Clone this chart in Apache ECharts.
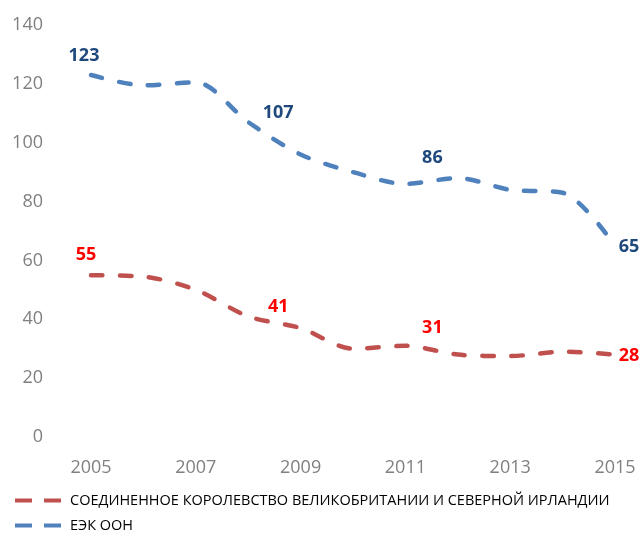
<!DOCTYPE html>
<html>
<head>
<meta charset="utf-8">
<script src="https://cdn.jsdelivr.net/npm/echarts@6/dist/echarts.min.js"></script>
<style>
  html, body { margin: 0; padding: 0; background: #fff; }
  #main { width: 640px; height: 533px; }
</style>
</head>
<body>
<div id="main"></div>
<script>
var years = ["2005", "2006", "2007", "2008", "2009", "2010", "2011", "2012", "2013", "2014", "2015"];
var ukName = "СОЕДИНЕННОЕ КОРОЛЕВСТВО ВЕЛИКОБРИТАНИИ И СЕВЕРНОЙ ИРЛАНДИИ";
var uneceName = "ЕЭК ООН";
var ukValues = [55, 54.5, 50, 41, 37, 30, 31, 28, 27.5, 29, 28];
var uneceValues = [123, 119.5, 120.5, 107, 96, 90, 86, 88, 84, 83, 65];

// which points carry a value label, and where it sits relative to the point
var ukLabelOffsets = { 0: [-5, -20], 3: [30, -9], 6: [27, -17], 10: [14, 2] };
var uneceLabelOffsets = { 0: [-7, -19], 3: [30, -9], 6: [27, -26], 10: [14, 2] };

var ukColor = "#C0504D";
var uneceColor = "#4F81BD";
var font = "'Open Sans', sans-serif";
var dashIcon = "path://M0,0h17v4h-17z M29,0h17v4h-17z";

function buildData(values, offsets, color) {
  return values.map((v, i) => {
    var off = offsets[i];
    if (!off) return v;
    return {
      value: v,
      label: {
        show: true,
        position: "top",
        distance: 0,
        align: "center",
        verticalAlign: "middle",
        offset: off,
        color: color,
        fontFamily: font,
        fontWeight: "bold",
        fontSize: 18,
        formatter: "{c}"
      }
    };
  });
}

var myChart = echarts.init(document.getElementById("main"));
var option = {
  animation: false,
  grid: {
    left: 91,
    right: 25,
    top: 25,
    bottom: 96
  },
  legend: {
    orient: "vertical",
    left: 15,
    top: 493,
    padding: 0,
    itemWidth: 46,
    itemHeight: 4,
    itemGap: 10,
    textStyle: {
      fontFamily: font,
      fontSize: 14.5,
      color: "#000",
      padding: [0, 0, 0, 4]
    },
    data: [
      { name: ukName, icon: dashIcon, itemStyle: { color: ukColor } },
      { name: uneceName, icon: dashIcon, itemStyle: { color: uneceColor } }
    ]
  },
  xAxis: {
    type: "category",
    boundaryGap: false,
    data: years,
    axisLine: { show: false },
    axisTick: { show: false },
    axisLabel: {
      interval: 1,
      color: "#808080",
      fontFamily: font,
      fontSize: 18,
      margin: 22
    }
  },
  yAxis: {
    type: "value",
    min: 0,
    max: 140,
    interval: 20,
    splitLine: { show: false },
    axisLine: { show: false },
    axisTick: { show: false },
    axisLabel: {
      color: "#808080",
      fontFamily: font,
      fontSize: 18,
      margin: 48
    }
  },
  series: [
    {
      name: ukName,
      type: "line",
      smooth: 0.3,
      symbol: "circle",
      symbolSize: 1,
      showAllSymbol: true,
      lineStyle: { color: ukColor, width: 4.5, type: [11.5, 17.5], cap: "round" },
      itemStyle: { color: "transparent" },
      data: buildData(ukValues, ukLabelOffsets, "#FF0000")
    },
    {
      name: uneceName,
      type: "line",
      smooth: 0.3,
      symbol: "circle",
      symbolSize: 1,
      showAllSymbol: true,
      lineStyle: { color: uneceColor, width: 4.5, type: [11.5, 17.5], cap: "round" },
      itemStyle: { color: "transparent" },
      data: buildData(uneceValues, uneceLabelOffsets, "#1F497D")
    }
  ]
};
myChart.setOption(option);
</script>
</body>
</html>
